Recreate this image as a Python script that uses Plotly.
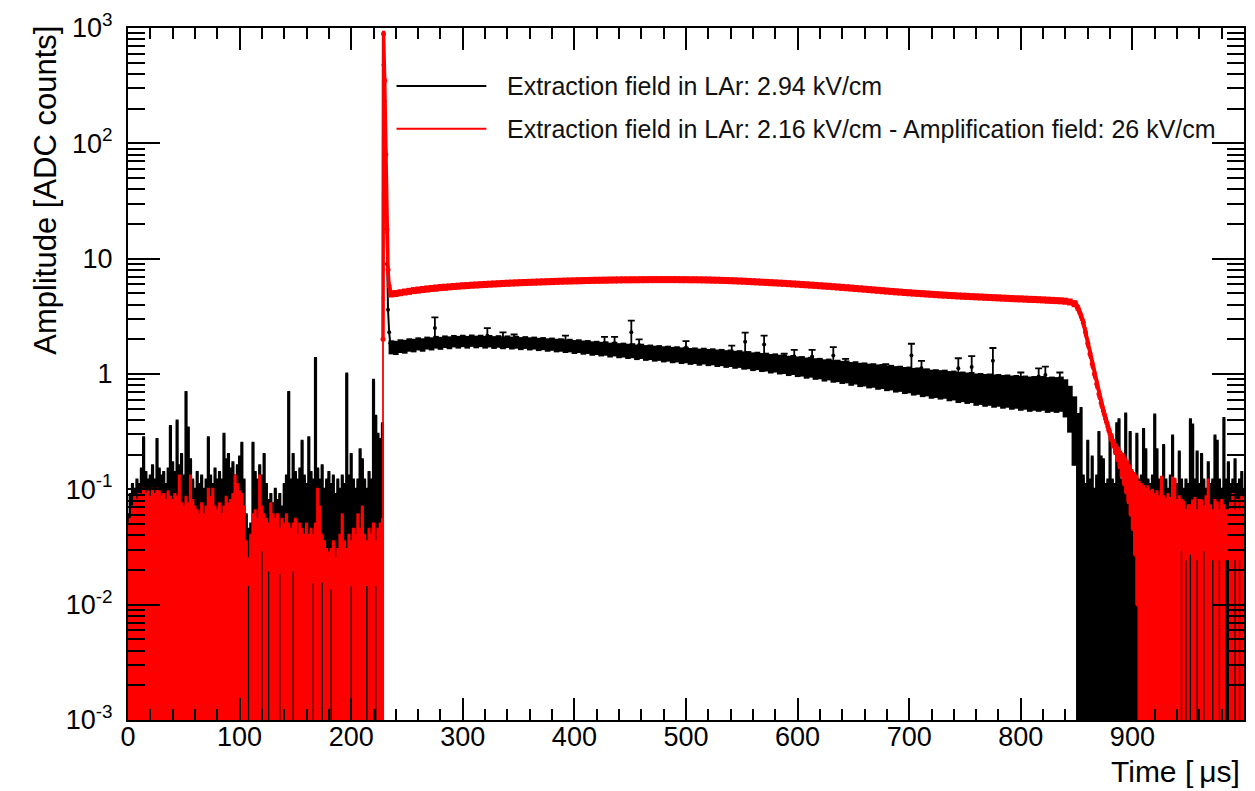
import plotly.graph_objects as go

# ---------------- data ----------------
# pre-trigger noise, 2 us bins from 0 to 228 us
T_PRE = list(range(0, 230, 2))
BLACK_PRE = [
    .025, .04, .05, .045, .055, .05, .07, .13, .065, .055,
    .06, .075, .055, .12, .07, .06, .065, .05, .07, .16,
    .08, .065, .18, .075, .09, .06, .32, .16, .08, .055,
    .045, .065, .05, .06, .045, .055, .13, .06, .05, .07,
    .055, .065, .055, .14, .08, .09, .07, .08, .06, .075,
    .085, .115, .055, .028, .02, .023, .115, .065, .055, .075,
    .06, .09, .05, .037, .042, .035, .045, .037, .042, .032,
    .05, .06, .32, .055, .09, .065, .055, .07, .12, .06,
    .05, .13, .065, .055, .62, .07, .055, .075, .045, .055,
    .065, .05, .06, .04, .055, .045, .06, .05, .46, .06,
    .09, .055, .045, .055, .1, .08, .055, .045, .065, .055,
    .4, .2, .14, .12, .17]
BLACK_PRE_ERR = [
    .035, .05, .06, .055, .065, .06, .08, .15, .075, .065,
    .07, .085, .065, .15, .08, .07, .075, .06, .08, .19,
    .09, .075, .21, .085, .11, .07, .37, .18, .10, .065,
    .055, .075, .06, .07, .055, .065, .15, .07, .06, .08,
    .065, .075, .065, .16, .10, .11, .08, .09, .07, .085,
    .105, .135, .065, .032, .025, .027, .135, .075, .065, .085,
    .07, .11, .06, .043, .048, .04, .055, .043, .048, .038,
    .06, .07, .37, .065, .11, .075, .065, .08, .14, .07,
    .06, .15, .075, .065, .74, .08, .065, .085, .055, .065,
    .075, .06, .07, .05, .065, .055, .07, .06, .54, .07,
    .11, .065, .055, .065, .12, .10, .065, .055, .075, .065,
    .48, .23, .16, .15, .2]
RED_PRE = [
    .02, .022, .028, .034, .032, .036, .034, .04, .036, .038,
    .034, .04, .036, .04, .038, .034, .036, .032, .038, .034,
    .032, .036, .034, .052, .03, .028, .034, .03, .052, .032,
    .028, .026, .024, .03, .024, .028, .04, .034, .04, .028,
    .026, .03, .024, .028, .034, .03, .032, .036, .052, .044,
    .038, .036, .028, .014, .02, .016, .024, .026, .022, .052,
    .05, .024, .022, .035, .03, .024, .022, .024, .032, .022,
    .02, .024, .02, .018, .035, .022, .016, .02, .018, .016,
    .02, .016, .018, .028, .02, .04, .028, .028, .014, .012,
    .011, .022, .014, .01, .012, .016, .024, .014, .012, .016,
    .025, .018, .016, .024, .018, .028, .016, .025, .018, .016,
    .02, .025, .018, .02, .022]
RED_PRE_ERR = [
    .03, .033, .042, .051, .048, .054, .051, .06, .054, .057,
    .051, .06, .054, .06, .057, .051, .054, .048, .057, .051,
    .048, .054, .051, .078, .045, .042, .051, .045, .078, .048,
    .042, .039, .036, .045, .036, .042, .06, .051, .06, .042,
    .039, .045, .036, .042, .051, .045, .048, .054, .078, .066,
    .057, .054, .042, .021, .005, .024, .036, .039, .033, .078,
    .02, .036, .033, .015, .045, .036, .033, .036, .013, .033,
    .03, .036, .03, .027, .015, .033, .024, .03, .027, .024,
    .03, .024, .027, .012, .03, .06, .042, .012, .021, .018,
    .017, .008, .021, .015, .018, .024, .036, .021, .018, .024,
    .01, .027, .024, .036, .027, .042, .024, .01, .027, .024,
    .03, .01, .027, .03, .033]

# prompt peak
T_BLACK_SPIKE = [229, 230, 231, 232, 233, 234, 235]
BLACK_SPIKE = [480, 230, 40, 9, 3.6, 2.3, 1.85]
T_RED_SPIKE = [228.5, 229, 230, 231, 232, 233, 234, 235]
RED_SPIKE = [2.0, 890, 350, 80, 18, 8, 5.8, 5.2]
RED_SPIKE_ERR = [2.6, 40, 20, 5, 1.3, 0.55, 0.4, 0.36]

# drift (signal) region, 4 us bins
T_SIG_B = list(range(236, 853, 4))
BLACK_SIG = [
    1.72, 1.70, 1.76, 1.74, 1.80, 1.78, 1.84, 1.80, 1.87, 1.84,
    1.90, 1.86, 1.92, 1.88, 1.94, 1.90, 1.95, 1.90, 1.96, 1.91,
    1.95, 1.90, 1.94, 1.89, 1.93, 1.88, 1.92, 1.87, 1.90, 1.85,
    1.89, 1.84, 1.87, 1.82, 1.85, 1.80, 1.83, 1.78, 1.80, 1.76,
    1.78, 1.73, 1.76, 1.71, 1.73, 1.68, 1.70, 1.66, 1.68, 1.63,
    1.66, 1.61, 1.63, 1.59, 1.61, 1.56, 1.59, 1.54, 1.56, 1.52,
    1.54, 1.50, 1.52, 1.48, 1.50, 1.46, 1.48, 1.44, 1.46, 1.42,
    1.45, 1.41, 1.43, 1.39, 1.41, 1.37, 1.39, 1.35, 1.37, 1.33,
    1.34, 1.30, 1.32, 1.28, 1.29, 1.25, 1.27, 1.23, 1.24, 1.20,
    1.22, 1.18, 1.19, 1.15, 1.17, 1.13, 1.14, 1.10, 1.12, 1.08,
    1.09, 1.06, 1.07, 1.03, 1.05, 1.01, 1.02, 0.99, 1.00, 0.97,
    0.98, 0.95, 0.96, 0.93, 0.94, 0.91, 0.92, 0.89, 0.90, 0.87,
    0.88, 0.85, 0.86, 0.84, 0.85, 0.82, 0.83, 0.80, 0.81, 0.79,
    0.80, 0.77, 0.78, 0.76, 0.77, 0.75, 0.76, 0.74, 0.75, 0.73,
    0.74, 0.72, 0.73, 0.71, 0.72, 0.71, 0.72, 0.70, 0.71, 0.70,
    0.71, 0.66, 0.55, 0.40, 0.22]
BLACK_SIG_ERR = 0.24

T_SIG_R = list(range(236, 849, 4))
RED_SIG = [
    4.95, 5.00, 5.08, 5.15, 5.22, 5.30, 5.36, 5.42, 5.48, 5.53,
    5.58, 5.63, 5.67, 5.71, 5.75, 5.79, 5.83, 5.86, 5.90, 5.93,
    5.96, 5.99, 6.02, 6.05, 6.08, 6.11, 6.14, 6.16, 6.19, 6.21,
    6.23, 6.25, 6.27, 6.29, 6.31, 6.33, 6.35, 6.37, 6.39, 6.41,
    6.42, 6.44, 6.45, 6.47, 6.48, 6.50, 6.51, 6.52, 6.53, 6.54,
    6.55, 6.56, 6.57, 6.57, 6.58, 6.58, 6.59, 6.59, 6.60, 6.60,
    6.60, 6.60, 6.60, 6.60, 6.60, 6.59, 6.59, 6.58, 6.58, 6.57,
    6.56, 6.55, 6.53, 6.52, 6.50, 6.48, 6.46, 6.44, 6.41, 6.39,
    6.36, 6.33, 6.30, 6.27, 6.24, 6.21, 6.18, 6.15, 6.12, 6.09,
    6.05, 6.02, 5.98, 5.95, 5.91, 5.88, 5.84, 5.80, 5.77, 5.73,
    5.69, 5.65, 5.61, 5.57, 5.53, 5.49, 5.45, 5.41, 5.37, 5.33,
    5.29, 5.25, 5.21, 5.17, 5.14, 5.10, 5.07, 5.04, 5.01, 4.98,
    4.95, 4.92, 4.89, 4.86, 4.84, 4.81, 4.79, 4.76, 4.74, 4.72,
    4.70, 4.68, 4.66, 4.64, 4.62, 4.60, 4.58, 4.56, 4.54, 4.52,
    4.50, 4.49, 4.47, 4.45, 4.44, 4.42, 4.40, 4.38, 4.36, 4.34,
    4.32, 4.29, 4.22, 4.08]
RED_SIG_ERR_PCT = 7

# isolated fluctuations of the black waveform in the drift region
T_BOUT = [275, 322, 336, 346, 392, 427, 436, 451, 458, 500, 541, 553, 570, 588,
          597, 613, 632, 643, 679, 702, 711, 744, 756, 775, 800, 816, 822, 835]
BOUT = [2.5, 2.15, 2.0, 1.95, 1.9, 1.85, 1.85, 2.3, 1.78, 1.7, 1.55, 1.9, 1.8, 1.35,
        1.42, 1.42, 1.45, 1.2, 1.08, 1.45, 1.12, 1.12, 1.15, 1.3, 0.9, 0.95, 0.98, 0.88]
BOUT_ERR = [0.6, 0.35, 0.3, 0.25, 0.25, 0.25, 0.25, 0.6, 0.22, 0.23, 0.21, 0.38, 0.35, 0.15,
            0.2, 0.2, 0.26, 0.15, 0.14, 0.38, 0.18, 0.25, 0.28, 0.38, 0.13, 0.17, 0.18, 0.15]

# tail of the waveforms
T_POST_B = list(range(854, 1001, 2))
BLACK_POST = [
    .22, .058, .05, .12, .054, .085, .045, .058, .14, .085,
    .08, .05, .054, .13, .054, .05, .17, .18, .054, .058,
    .2, .05, .14, .054, .05, .135, .054, .058, .15, .1,
    .054, .05, .058, .2, .1, .054, .05, .11, .054, .045,
    .058, .13, .054, .05, .095, .054, .045, .054, .05, .18,
    .16, .054, .095, .05, .09, .054, .045, .075, .05, .054,
    .13, .12, .054, .045, .18, .054, .075, .05, .054, .08,
    .05, .054, .063, .045]
BLACK_POST_ERR = [
    .28, .072, .06, .14, .066, .105, .055, .072, .17, .105,
    .10, .06, .066, .15, .066, .06, .2, .22, .066, .072,
    .25, .06, .17, .066, .06, .165, .066, .072, .18, .12,
    .066, .06, .072, .24, .12, .066, .06, .13, .066, .055,
    .072, .16, .066, .06, .115, .066, .055, .066, .06, .22,
    .2, .066, .115, .06, .11, .066, .055, .095, .06, .066,
    .16, .14, .066, .055, .23, .066, .095, .06, .066, .1,
    .06, .066, .077, .055]

T_RED_DROP = list(range(850, 905, 2))
RED_DROP = [3.9, 3.6, 3.2, 2.8, 2.3, 1.85, 1.5, 1.22, 1.0, 0.82,
            0.67, 0.56, 0.48, 0.41, 0.35, 0.3, 0.265, 0.235, 0.21, 0.19,
            0.17, 0.155, 0.14, 0.125, 0.11, 0.095, 0.082, 0.07]
RED_DROP_ERR = [.25, .25, .22, .2, .17, .14, .11, .09, .075, .062,
                .052, .045, .04, .036, .033, .03, .03, .03, .032, .035,
                .04, .045, .047, .048, .05, .05, .055, .06]

T_RED_NOISE = list(range(906, 1001, 2))
RED_NOISE = [
    .05, .048, .045, .042, .045, .04, .042, .038, .04, .036,
    .055, .036, .034, .038, .035, .055, .052, .034, .036, .055,
    .032, .045, .03, .05, .033, .035, .045, .034, .033, .05,
    .036, .052, .03, .045, .034, .032, .045, .034, .03, .045,
    .045, .032, .04, .045, .034, .045, .036, .035]
RED_NOISE_ERR = [
    .065, .062, .06, .058, .06, .055, .056, .052, .055, .05,
    .072, .05, .048, .052, .048, .07, .07, .046, .05, .025,
    .045, .02, .042, .022, .046, .048, .02, .046, .046, .02,
    .05, .068, .042, .02, .046, .044, .02, .046, .042, .02,
    .02, .044, .05, .02, .046, .02, .05, .048]

X_TICKS = list(range(0, 1001, 100))
X_LABELS = ["0", "100", "200", "300", "400", "500", "600", "700", "800", "900", ""]
Y_TICKS = [1e-3, 1e-2, 1e-1, 1, 10, 100, 1000]
Y_LABELS = ["10<sup>-3</sup>", "10<sup>-2</sup>", "10<sup>-1</sup>", "1", "10",
            "10<sup>2</sup>", "10<sup>3</sup>"]
LEGEND_LABELS = ["Extraction field in LAr: 2.94 kV/cm",
                 "Extraction field in LAr: 2.16 kV/cm - Amplification field: 26 kV/cm"]

# ---------------- figure ----------------
BLACK = "#000000"
RED = "#ff0000"
FONT = "Liberation Sans, Arial, Helvetica, sans-serif"
NOISE_BAR = 3.2     # bar thickness for the 2 us bins (overlapping -> solid)
BAND_BAR = 5.6      # bar thickness for the 4 us bins


def bars(arr, thick, cap, color):
    return dict(type="data", array=arr, symmetric=True, thickness=thick,
                width=cap, color=color)


fig = go.Figure()
common = dict(showlegend=False, hoverinfo="skip")

# black series
fig.add_trace(go.Scatter(x=T_PRE, y=BLACK_PRE, mode="markers",
                         marker=dict(color=BLACK, size=2),
                         error_y=bars(BLACK_PRE_ERR, NOISE_BAR, 1.5, BLACK), **common))
fig.add_trace(go.Scatter(x=T_BLACK_SPIKE, y=BLACK_SPIKE, mode="lines+markers",
                         line=dict(color=BLACK, width=2),
                         marker=dict(color=BLACK, size=4), **common))
fig.add_trace(go.Scatter(x=T_SIG_B, y=BLACK_SIG, mode="markers",
                         marker=dict(color=BLACK, size=5),
                         error_y=dict(type="constant", value=BLACK_SIG_ERR,
                                      thickness=BAND_BAR, width=0, color=BLACK), **common))
fig.add_trace(go.Scatter(x=T_BOUT, y=BOUT, mode="markers",
                         marker=dict(color=BLACK, size=4),
                         error_y=bars(BOUT_ERR, 1.8, 3.5, BLACK), **common))
fig.add_trace(go.Scatter(x=T_POST_B, y=BLACK_POST, mode="markers",
                         marker=dict(color=BLACK, size=2),
                         error_y=bars(BLACK_POST_ERR, NOISE_BAR, 1.5, BLACK), **common))

# red series
fig.add_trace(go.Scatter(x=T_PRE, y=RED_PRE, mode="markers",
                         marker=dict(color=RED, size=2),
                         error_y=bars(RED_PRE_ERR, NOISE_BAR, 1.5, RED), **common))
fig.add_trace(go.Scatter(x=T_RED_SPIKE, y=RED_SPIKE, mode="lines+markers",
                         line=dict(color=RED, width=3.5),
                         marker=dict(color=RED, size=5),
                         error_y=bars(RED_SPIKE_ERR, 1.8, 1.5, RED), **common))
fig.add_trace(go.Scatter(x=T_SIG_R, y=RED_SIG, mode="lines+markers",
                         line=dict(color=RED, width=5),
                         marker=dict(color=RED, size=5),
                         error_y=dict(type="percent", value=RED_SIG_ERR_PCT,
                                      thickness=BAND_BAR, width=0, color=RED), **common))
fig.add_trace(go.Scatter(x=T_RED_DROP, y=RED_DROP, mode="lines+markers",
                         line=dict(color=RED, width=4),
                         marker=dict(color=RED, size=5),
                         error_y=bars(RED_DROP_ERR, NOISE_BAR, 1.0, RED), **common))
fig.add_trace(go.Scatter(x=T_RED_NOISE, y=RED_NOISE, mode="markers",
                         marker=dict(color=RED, size=2),
                         error_y=bars(RED_NOISE_ERR, NOISE_BAR, 1.5, RED), **common))

# plot area in pixels: x 128..1246, y 27..720
L, R, T, B = 128, 1246, 27, 720
W, H = R - L, B - T


def px(x):
    return (x - L) / W


def py(y):
    return (B - y) / H


fig.update_layout(
    width=1255, height=791,
    margin=dict(l=L, r=1255 - R, t=T, b=791 - B),
    paper_bgcolor="white", plot_bgcolor="white", showlegend=False,
    font=dict(family=FONT, color="black"),
)

fig.update_xaxes(
    range=[0, 1000], tickmode="array", tickvals=X_TICKS, ticktext=X_LABELS,
    ticks="inside", ticklen=22, tickwidth=2, tickcolor="black",
    showline=True, linewidth=2, linecolor="black", mirror="ticks",
    showgrid=False, zeroline=False, tickfont=dict(size=27, family=FONT),
    minor=dict(tickmode="array", tickvals=[v for v in range(0, 1001, 20) if v % 100],
               ticks="inside", ticklen=11, tickwidth=2, tickcolor="black",
               showgrid=False),
)
try:
    fig.update_xaxes(ticklabelstandoff=-8)
except Exception:
    fig.update_xaxes(ticklabelstandoff=0)

fig.update_yaxes(
    type="log", range=[-3, 3], tickmode="array", tickvals=Y_TICKS, ticktext=Y_LABELS,
    ticks="inside", ticklen=32, tickwidth=2, tickcolor="black",
    showline=True, linewidth=2, linecolor="black", mirror="ticks",
    showgrid=False, zeroline=False, tickfont=dict(size=27, family=FONT),
    ticklabelstandoff=8,
    minor=dict(tickmode="array",
               tickvals=[k * 10.0 ** e for e in range(-3, 3) for k in range(2, 10)],
               ticks="inside", ticklen=17, tickwidth=2, tickcolor="black",
               showgrid=False),
)

# axis titles
fig.add_annotation(text="Amplitude [ADC counts]", textangle=-90, showarrow=False,
                   xref="paper", yref="paper", x=px(45), y=py(23),
                   xanchor="center", yanchor="top",
                   font=dict(size=31, family=FONT, color="black"))
fig.add_annotation(text="Time [\u2009\u03bcs]", showarrow=False,
                   xref="paper", yref="paper", x=px(1244), y=py(772),
                   xanchor="right", yanchor="middle",
                   font=dict(size=30, family=FONT, color="black"))

# legend (ROOT style, no frame)
for i, (lab, col) in enumerate(zip(LEGEND_LABELS, [BLACK, RED])):
    yy = [85, 128][i]
    fig.add_shape(type="line", xref="paper", yref="paper",
                  x0=px(397), x1=px(487), y0=py(yy), y1=py(yy),
                  line=dict(color=col, width=2))
    fig.add_annotation(text=lab, showarrow=False, xref="paper", yref="paper",
                       x=px(506), y=py(yy), xanchor="left", yanchor="middle",
                       font=dict(size=25, family=FONT, color="#111111"))

fig.write_html("out.html")
